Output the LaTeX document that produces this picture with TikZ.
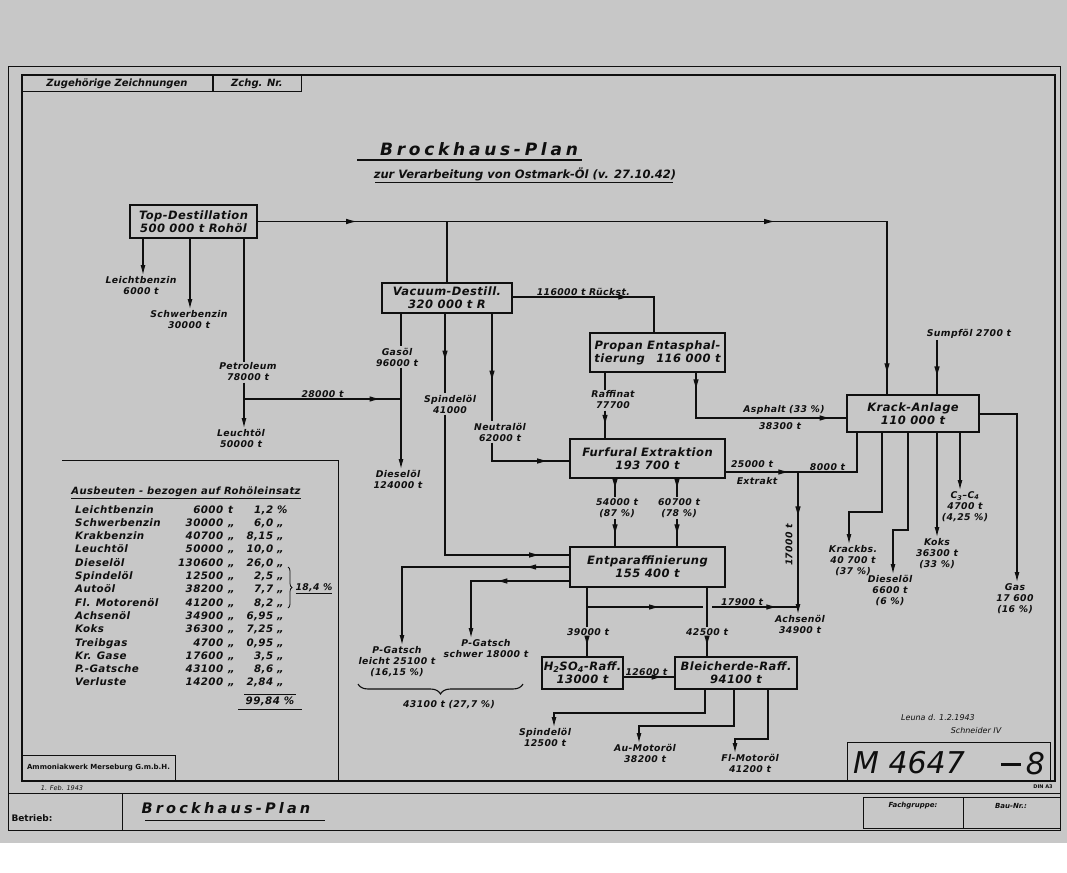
\documentclass[tikz,border=0pt]{standalone}
\usepackage{fontspec}
\usepackage{array}
\setmainfont{DejaVu Sans}[LetterSpace=4,
  BoldFont={DejaVu Sans Bold}, ItalicFont={DejaVu Sans Oblique},
  BoldItalicFont={DejaVu Sans Bold Oblique}]
\newfontfamily\titlefont{DejaVu Sans}[LetterSpace=22,
  BoldFont={DejaVu Sans Bold}, ItalicFont={DejaVu Sans Oblique},
  BoldItalicFont={DejaVu Sans Bold Oblique}]
\newfontfamily\printfont{DejaVu Sans}[
  BoldFont={DejaVu Sans Bold}, ItalicFont={DejaVu Sans Oblique},
  BoldItalicFont={DejaVu Sans Bold Oblique}]
\usetikzlibrary{arrows.meta,decorations.markings,decorations.pathreplacing}

\definecolor{paper}{gray}{0.78}
\definecolor{ink}{gray}{0.06}

\begin{document}
\begin{tikzpicture}[x=1pt, y=-1pt, color=ink,
  box/.style={draw, line width=1.4pt, align=center, inner sep=1pt,
              font=\fontsize{11.5}{13}\selectfont\bfseries\itshape},
  lbl/.style={align=center, inner sep=1.2pt,
              font=\fontsize{9.3}{11}\selectfont\bfseries\itshape},
  flow/.style={draw, line width=1.1pt},
  arr/.style={flow, -{Latex[length=10pt,width=5pt]}},
  midarr/.style={postaction={decorate, decoration={markings,
              mark=at position #1 with {\arrow{Latex[length=11pt,width=5.5pt]}}}}},
  sheet/.style={draw, line width=#1},
  sheet/.default=0.7pt,
  cell/.style={draw, line width=1pt, inner sep=0pt,
              font=\printfont\fontsize{10}{12}\selectfont\bfseries\itshape}
]
\useasboundingbox (0,0) rectangle (1067,872);
\fill[paper] (0,0) rectangle (1067,843);

% Blatt und Rahmen
\draw[sheet] (8,66) rectangle (1060,830);
\draw[sheet=1.4pt] (22,75) rectangle (1055,781);
\node[cell, minimum width=190, minimum height=17] (zug) at (117,83.5) {Zugehörige Zeichnungen};
\node[cell, minimum width=88, minimum height=17, anchor=west] (zchg) at (zug.east) {Zchg. Nr.};

\node[font=\titlefont\fontsize{17}{20}\selectfont\bfseries\itshape] (titel) at (479,149) {Brockhaus-Plan};
\draw[line width=2pt] (357,160) -- (582,160);
\node[font=\printfont\fontsize{11.5}{14}\selectfont\bfseries\itshape] (untertitel) at (525,174) {zur Verarbeitung von Ostmark-Öl (v. 27.10.42)};
\draw[line width=1pt] (375,182) -- (673,182);

% Anlagen
\node[box, minimum width=127, minimum height=33] (top)    at (193.5,221.5) {Top-Destillation\\500 000 t Rohöl};
\node[box, minimum width=130, minimum height=30] (vac)    at (447,298)     {Vacuum-Destill.\\320 000 t R};
\node[box, minimum width=135, minimum height=39] (prop)   at (657.5,352.5) {Propan Entasphal-\\tierung\quad 116 000 t};
\node[box, minimum width=132, minimum height=37] (krack)  at (913,413.5)   {Krack-Anlage\\110 000 t};
\node[box, minimum width=155, minimum height=39] (furf)   at (647.5,458.5) {Furfural Extraktion\\193 700 t};
\node[box, minimum width=155, minimum height=40] (entp)   at (647.5,567)   {Entparaffinierung\\155 400 t};
\node[box, minimum width=81,  minimum height=32] (h2so)   at (582.5,673)   {H\textsubscript{2}SO\textsubscript{4}-Raff.\\13000 t};
\node[box, minimum width=122, minimum height=32] (bleich) at (736,673)     {Bleicherde-Raff.\\94100 t};

% Top-Destillation
\draw[flow, midarr=0.124, midarr=0.645, midarr=0.975] (top.east) -| ([xshift=-26pt]krack.north);
\draw[flow] (top.east -| vac.north) -- (vac.north);
\node[lbl, anchor=north] (lbz) at (141,275) {Leichtbenzin\\6000 t};
\draw[arr] (143,0 |- top.south) -- (143,0 |- lbz.north);
\node[lbl, anchor=north] (sbz) at (189,309) {Schwerbenzin\\30000 t};
\draw[arr] (190,0 |- top.south) -- (190,0 |- sbz.north);
\node[lbl] (pet) at (248,372) {Petroleum\\78000 t};
\draw[flow] (244,0 |- top.south) -- (244,0 |- pet.north);
\node[lbl, anchor=north] (leu) at (241,428) {Leuchtöl\\50000 t};
\draw[arr] (244,0 |- pet.south) -- (244,0 |- leu.north);
\coordinate (j28) at (244,399);

% Vacuum-Destillation
\node[lbl] (gas) at (397,357) {Gasöl\\96000 t};
\draw[flow] (401,0 |- vac.south) -- (401,0 |- gas.north);
\node[lbl, anchor=north] (dsl) at (398,469) {Dieselöl\\124000 t};
\draw[arr] (401,0 |- gas.south) -- (401,0 |- dsl.north);
\draw[flow, midarr=0.87] (j28) -- (401,0 |- j28) node[lbl, above, pos=0.5] (l28) {28000 t};
\node[lbl] (spv) at (450,404) {Spindelöl\\41000};
\draw[flow, midarr=0.6] (445,0 |- vac.south) -- (445,0 |- spv.north);
\draw[flow, midarr=0.89] (445,0 |- spv.south) |- ([yshift=12pt]entp.west);
\node[lbl] (neu) at (500,432) {Neutralöl\\62000 t};
\draw[flow, midarr=0.63] (492,0 |- vac.south) -- (492,0 |- neu.north);
\draw[flow, midarr=0.78] (492,0 |- neu.south) |- ([yshift=-2.5pt]furf.west);
\draw[flow, midarr=0.66] ([yshift=1pt]vac.east) -| ([xshift=-3.5pt]prop.north)
  node[lbl, above, pos=0.25] (lrs) {116000 t Rückst.};

% Propan
\node[lbl] (raf) at (613,400) {Raffinat\\77700};
\draw[flow] (605,0 |- prop.south) -- (605,0 |- raf.north);
\draw[flow, midarr=0.55] (605,0 |- raf.south) -- (605,0 |- furf.north);
\draw[flow, midarr=0.09, midarr=0.92] (696,0 |- prop.south) |- ([yshift=-4.5pt]krack.west);
\node[lbl] (asp) at (784,410) {Asphalt (33 \%)};
\node[lbl] (a383) at (780,426) {38300 t};

% Krack-Anlage
\node[lbl] (sumpf) at (969,334) {Sumpföl 2700 t};
\draw[flow, midarr=0.69] (937,0 |- sumpf.south) -- (937,0 |- krack.north);
\node[lbl, anchor=north] (gasr) at (1015,582) {Gas\\17 600\\(16 \%)};
\draw[arr] ([yshift=-0.5pt]krack.east) -| (1017,0 |- gasr.north);
\node[lbl, anchor=north] (kbs) at (853,544) {Krackbs.\\40 700 t\\(37 \%)};
\draw[arr] (882,0 |- krack.south) |- (849,512) -- (849,0 |- kbs.north);
\node[lbl, anchor=north] (dsk) at (890,574) {Dieselöl\\6600 t\\(6 \%)};
\draw[arr] (908,0 |- krack.south) |- (893,530) -- (893,0 |- dsk.north);
\node[lbl, anchor=north] (koks) at (937,537) {Koks\\36300 t\\(33 \%)};
\draw[arr] (937,0 |- krack.south) -- (koks.north);
\node[lbl, anchor=north] (c34) at (965,490) {C\textsubscript{3}–C\textsubscript{4}\\4700 t\\(4,25 \%)};
\draw[arr] (960,0 |- krack.south) -- (960,0 |- c34.north);

% Furfural
\coordinate (jx) at (798,472);
\draw[flow, midarr=0.88] ([yshift=-13.5pt]furf.east) -- (jx);
\node[lbl] (l25) at (752,464) {25000 t};
\node[lbl] (lex) at (757,481) {Extrakt};
\draw[flow] (jx) -| (857,0 |- krack.south) node[lbl, above, pos=0.25] (l80) {8000 t};
\node[lbl, anchor=north] (achs) at (800,614) {Achsenöl\\34900 t};
\draw[arr, midarr=0.32] (jx) -- (798,0 |- achs.north);
\node[lbl, rotate=90] (l17) at (789,545) {17000 t};
\node[lbl] (l54) at (617,508) {54000 t\\(87 \%)};
\draw[flow, midarr=0.6] (615,0 |- furf.south) -- (615,0 |- l54.north);
\draw[flow, midarr=0.6] (615,0 |- l54.south) -- (615,0 |- entp.north);
\node[lbl] (l60) at (679,508) {60700 t\\(78 \%)};
\draw[flow, midarr=0.6] (677,0 |- furf.south) -- (677,0 |- l60.north);
\draw[flow, midarr=0.6] (677,0 |- l60.south) -- (677,0 |- entp.north);

% Entparaffinierung
\node[lbl, anchor=north] (pgl) at (397,645) {P-Gatsch\\leicht 25100 t\\(16,15 \%)};
\draw[arr, midarr=0.18] (entp.west) -| (402,0 |- pgl.north);
\node[lbl, anchor=north] (pgs) at (486,638) {P-Gatsch\\schwer 18000 t};
\draw[arr, midarr=0.47] ([yshift=-14pt]entp.west) -| (471,0 |- pgs.north);
\coordinate (bgl) at (358,684);
\coordinate (bgr) at (523,684);
\draw[flow, decorate, decoration={brace, mirror, amplitude=10pt}] (bgl) -- (bgr);
\node[lbl] (l431) at (449,705) {43100 t (27,7 \%)};
\node[lbl] (l39) at (588,632) {39000 t};
\draw[flow] (587,0 |- entp.south) -- (587,0 |- l39.north);
\draw[flow, midarr=0.5] (587,0 |- l39.south) -- (587,0 |- h2so.north);
\node[lbl] (l42) at (707,632) {42500 t};
\draw[flow] (707,0 |- entp.south) -- (707,0 |- l42.north);
\draw[flow, midarr=0.5] (707,0 |- l42.south) -- (707,0 |- bleich.north);
\coordinate (j39) at (587,607);
\coordinate (x42) at (j39 -| l42);
\draw[flow, midarr=0.63] (j39) -- ([xshift=-4pt]x42);
\draw[flow, midarr=0.76] ([xshift=5pt]x42) -- (j39 -| jx) node[lbl, above, pos=0.35] (l179) {17900 t};

% Raffination
\draw[flow, midarr=0.77] ([yshift=-4pt]h2so.east) -- ([yshift=-4pt]bleich.west)
  node[lbl, above, pos=0.45] (l126) {12600 t};
\node[lbl, anchor=north] (spb) at (545,727) {Spindelöl\\12500 t};
\draw[arr] (705,0 |- bleich.south) |- (554,713) -- (554,0 |- spb.north);
\node[lbl, anchor=north] (aum) at (645,743) {Au-Motoröl\\38200 t};
\draw[arr] (734,0 |- bleich.south) |- (639,726) -- (639,0 |- aum.north);
\node[lbl, anchor=north] (flm) at (750,753) {Fl-Motoröl\\41200 t};
\draw[arr] (768,0 |- bleich.south) |- (735,739) -- (735,0 |- flm.north);

% Ausbeuten
\draw[sheet=1pt] (62,460) -| (338,781);
\node[lbl, font=\fontsize{10}{12}\selectfont\bfseries\itshape] (tabt) at (186,493) {\underline{Ausbeuten - bezogen auf Rohöleinsatz}};
\node[anchor=north west, inner sep=0pt, font=\fontsize{10.3}{13.3}\selectfont\bfseries\itshape] (tab) at (75,503.5) {%
\begin{tabular}{@{}p{100pt}@{}>{\raggedleft\arraybackslash}p{48pt}@{\hspace{5pt}}p{12pt}@{}>{\raggedleft\arraybackslash}p{33pt}@{\hspace{4pt}}l@{}}
Leichtbenzin  & 6000   & t & 1,2  & \%\\
Schwerbenzin  & 30000  & „ & 6,0  & „\\
Krakbenzin    & 40700  & „ & 8,15 & „\\
Leuchtöl      & 50000  & „ & 10,0 & „\\
Dieselöl      & 130600 & „ & 26,0 & „\\
Spindelöl     & 12500  & „ & 2,5  & „\\
Autoöl        & 38200  & „ & 7,7  & „\\
Fl. Motorenöl & 41200  & „ & 8,2  & „\\
Achsenöl      & 34900  & „ & 6,95 & „\\
Koks          & 36300  & „ & 7,25 & „\\
Treibgas      & 4700   & „ & 0,95 & „\\
Kr. Gase      & 17600  & „ & 3,5  & „\\
P.-Gatsche    & 43100  & „ & 8,6  & „\\
Verluste      & 14200  & „ & 2,84 & „
\end{tabular}};
\coordinate (b18a) at (288,567);
\coordinate (b18b) at (288,608);
\draw[flow, line width=0.8pt, decorate, decoration={brace, amplitude=4pt}] (b18a) -- (b18b);
\node[lbl] (l184) at (314,589) {\underline{18,4 \%}};
\node[lbl, font=\fontsize{10.3}{12}\selectfont\bfseries\itshape] (summe) at (270,701) {99,84 \%};
\draw[line width=0.7pt] ([yshift=1pt]summe.north west) -- ([yshift=1pt]summe.north east);
\draw[line width=0.7pt] ([xshift=-6pt,yshift=-2pt]summe.south west) -- ([xshift=6pt,yshift=-2pt]summe.south east);

% Schriftfeld
\node[cell, minimum width=153, minimum height=26, font=\printfont\fontsize{7}{8}\selectfont\bfseries] (amm) at (98.5,768) {Ammoniakwerk Merseburg G.m.b.H.};
\draw[sheet] (8,793) -- (1060,793);
\draw[sheet] (122,793) -- (122,830);
\node[font=\printfont\fontsize{6.5}{8}\selectfont\itshape] (stempel) at (62,788) {1. Feb. 1943};
\node[font=\printfont\fontsize{9}{10}\selectfont\bfseries] (betr) at (32,818) {Betrieb:};
\node[font=\titlefont\fontsize{14.5}{16}\selectfont\bfseries\itshape] (fuss) at (226,808) {Brockhaus-Plan};
\draw[line width=1pt] (145,820) -- (325,820);
\draw[sheet=1pt] (847,742) rectangle (1050,781);
\node[font=\printfont\fontsize{30}{32}\selectfont\itshape] (mnr) at (909,763) {M 4647};
\node[font=\printfont\fontsize{30}{32}\selectfont\itshape] (blatt) at (1023,764) {\rule[9pt]{20pt}{3pt}\,8};
\node[font=\printfont\fontsize{8}{9}\selectfont\itshape] (sig1) at (938,718) {Leuna d. 1.2.1943};
\node[font=\printfont\fontsize{8}{9}\selectfont\itshape] (sig2) at (976,731) {Schneider IV};
\node[font=\printfont\fontsize{5}{6}\selectfont\bfseries] (din) at (1043,787) {DIN A3};
\draw[sheet] (863,797) rectangle (1060,828);
\draw[sheet] (963,797) -- (963,828);
\node[font=\printfont\fontsize{7}{8}\selectfont\bfseries\itshape] (fach) at (913,806) {Fachgruppe:};
\node[font=\printfont\fontsize{7}{8}\selectfont\bfseries\itshape] (baunr) at (1011,806) {Bau-Nr.:};
\end{tikzpicture}
\end{document}
